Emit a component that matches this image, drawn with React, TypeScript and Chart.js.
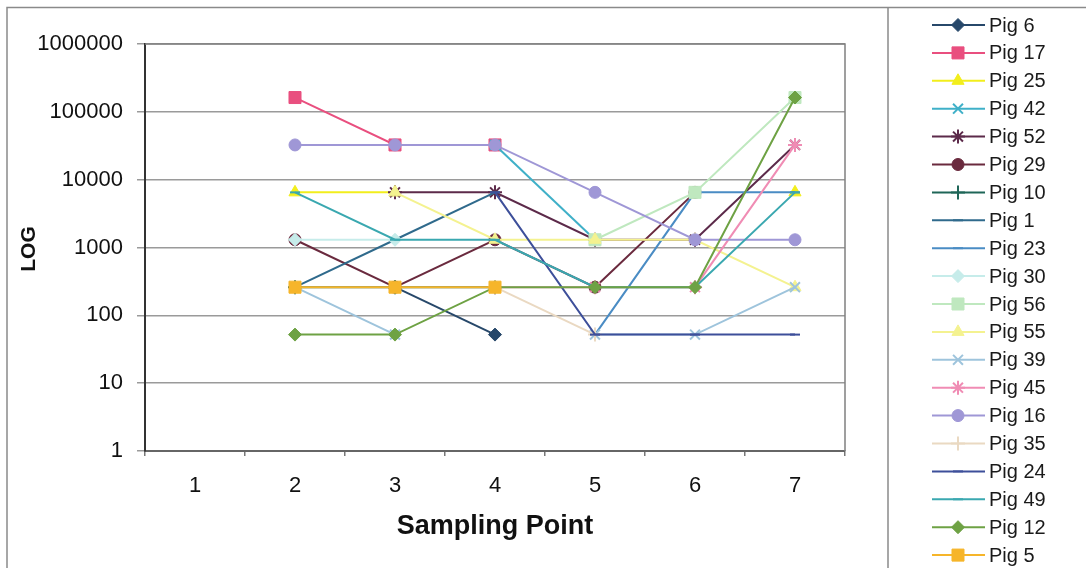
import React, { useEffect, useRef } from 'react';
import { Chart, registerables } from 'chart.js';
import { drawPoint } from 'chart.js/helpers';

Chart.register(...registerables);

const samplingPoints = ['1', '2', '3', '4', '5', '6', '7'];
const yTickValues = [1, 10, 100, 1000, 10000, 100000, 1000000];

const pig6 = [null, null, 260, 52, null, null, null];
const pig17 = [null, 162500, 32500, 32500, null, null, null];
const pig25 = [null, 6500, 6500, null, null, null, 6500];
const pig42 = [null, null, null, 32500, 1300, null, null];
const pig52 = [null, null, 6500, 6500, 1300, 1300, 32500];
const pig29 = [null, 1300, 260, 1300, 260, 6500, null];
const pig10 = [null, 260, 260, 260, null, null, null];
const pig1 = [null, 260, 1300, 6500, null, null, null];
const pig23 = [null, null, null, null, 52, 6500, 6500];
const pig30 = [null, 1300, 1300, null, null, null, null];
const pig56 = [null, null, null, null, 1300, 6500, 162500];
const pig55 = [null, null, 6500, 1300, 1300, 1300, 260];
const pig39 = [null, 260, 52, null, 52, 52, 260];
const pig45 = [null, null, null, 260, 260, 260, 32500];
const pig16 = [null, 32500, 32500, 32500, 6500, 1300, 1300];
const pig35 = [null, null, null, 260, 52, null, null];
const pig24 = [null, null, null, 6500, 52, 52, 52];
const pig49 = [null, 6500, 1300, 1300, 260, 260, 6500];
const pig12 = [null, 52, 52, 260, 260, 260, 162500];
const pig5 = [null, 260, 260, 260, null, null, null];

const seriesNames = ['Pig 6', 'Pig 17', 'Pig 25', 'Pig 42', 'Pig 52', 'Pig 29', 'Pig 10', 'Pig 1', 'Pig 23', 'Pig 30',
  'Pig 56', 'Pig 55', 'Pig 39', 'Pig 45', 'Pig 16', 'Pig 35', 'Pig 24', 'Pig 49', 'Pig 12', 'Pig 5'];
const seriesValues = [pig6, pig17, pig25, pig42, pig52, pig29, pig10, pig1, pig23, pig30,
  pig56, pig55, pig39, pig45, pig16, pig35, pig24, pig49, pig12, pig5];
const seriesColors = ['#27486a', '#e94f7f', '#f2ee1c', '#3fb0c8', '#5c2a4a', '#6a2a3e', '#1f6658', '#2f6a8c', '#4a8cc4', '#c6ecea',
  '#bfe8bf', '#f4f290', '#9ec4dc', '#f08cb4', '#9f97d6', '#ead9c2', '#3d4f9a', '#3aa8b0', '#6ea244', '#f6b52a'];
const seriesMarkers = ['rectRot', 'rect', 'triangle', 'crossRot', 'star', 'circle', 'cross', 'line', 'line', 'rectRot',
  'rect', 'triangle', 'crossRot', 'star', 'circle', 'cross', 'line', 'line', 'rectRot', 'rect'];

const FONT = "'Liberation Sans', Arial, sans-serif";

const markerRadius = (style: string) => {
  switch (style) {
    case 'rect': return 8.5;
    case 'rectRot': return 6.5;
    case 'triangle': return 7;
    case 'crossRot': return 7;
    case 'star': return 7;
    case 'circle': return 6;
    case 'cross': return 7;
    case 'line': return 5;
    default: return 6;
  }
};

const framePlugin = {
  id: 'frame',
  beforeDraw(chart: any) {
    const { ctx, width, height } = chart;
    ctx.save();
    ctx.fillStyle = '#ffffff';
    ctx.fillRect(0, 0, width, height);
    ctx.strokeStyle = '#8a8a8a';
    ctx.lineWidth = 1.5;
    ctx.beginPath();
    ctx.moveTo(7, height);
    ctx.lineTo(7, 7.5);
    ctx.lineTo(width, 7.5);
    ctx.moveTo(888, 7.5);
    ctx.lineTo(888, height);
    ctx.stroke();
    ctx.restore();
  },
  beforeDatasetsDraw(chart: any) {
    const { ctx, chartArea } = chart;
    ctx.save();
    ctx.strokeStyle = '#808080';
    ctx.lineWidth = 1.5;
    ctx.beginPath();
    ctx.moveTo(chartArea.left, chartArea.top);
    ctx.lineTo(chartArea.right, chartArea.top);
    ctx.lineTo(chartArea.right, chartArea.bottom);
    ctx.stroke();
    ctx.restore();
  },
  afterDraw(chart: any) {
    const { ctx } = chart;
    ctx.save();
    // axis titles
    ctx.fillStyle = '#111111';
    ctx.font = `bold 27px ${FONT}`;
    ctx.textAlign = 'center';
    ctx.textBaseline = 'middle';
    ctx.fillText('Sampling Point', 495, 527);
    ctx.save();
    ctx.translate(29, 249);
    ctx.rotate(-Math.PI / 2);
    ctx.font = `bold 21px ${FONT}`;
    ctx.fillText('LOG', 0, 0);
    ctx.restore();
    // legend
    chart.data.datasets.forEach((ds: any, i: number) => {
      const y = 25 + i * 27.9;
      ctx.strokeStyle = ds.borderColor;
      ctx.lineWidth = 2;
      ctx.beginPath();
      ctx.moveTo(932, y);
      ctx.lineTo(985, y);
      ctx.stroke();
      ctx.fillStyle = ds.pointBackgroundColor;
      ctx.strokeStyle = ds.pointBorderColor;
      ctx.lineWidth = ds.pointBorderWidth;
      drawPoint(ctx, { pointStyle: ds.pointStyle, radius: ds.pointRadius, rotation: 0, borderWidth: ds.pointBorderWidth }, 958, y);
      ctx.fillStyle = '#1a1a1a';
      ctx.font = `20px ${FONT}`;
      ctx.textAlign = 'left';
      ctx.textBaseline = 'middle';
      ctx.fillText(ds.label, 989, y + 1);
    });
    ctx.restore();
  },
};

export default function App() {
  const canvasRef = useRef<HTMLCanvasElement | null>(null);

  useEffect(() => {
    document.body.style.margin = '0';
    const canvas = canvasRef.current;
    if (!canvas) return;
    const n = seriesNames.length;
    const datasets = seriesNames.map((name, i) => {
      const style = seriesMarkers[i];
      const r = markerRadius(style);
      const thin = style === 'crossRot' || style === 'cross' || style === 'star' || style === 'line';
      return {
        label: name,
        data: seriesValues[i],
        borderColor: seriesColors[i],
        backgroundColor: seriesColors[i],
        pointBackgroundColor: seriesColors[i],
        pointBorderColor: seriesColors[i],
        pointBorderWidth: thin ? 2 : 1,
        pointStyle: style,
        pointRadius: r,
        pointHoverRadius: r,
        borderWidth: 2,
        tension: 0,
        spanGaps: false,
        order: n - i,
      };
    });

    const chart = new Chart(canvas, {
      type: 'line',
      data: { labels: samplingPoints, datasets },
      plugins: [framePlugin],
      options: {
        responsive: false,
        animation: false,
        layout: { padding: { left: 0, top: 44, right: 241, bottom: 0 } },
        plugins: { legend: { display: false }, tooltip: { enabled: false }, title: { display: false } },
        scales: {
          x: {
            type: 'category',
            offset: true,
            grid: { display: true, drawOnChartArea: false, drawTicks: true, tickLength: 5, offset: true, color: '#777777', lineWidth: 1.5 },
            border: { display: true, color: '#666666', width: 2 },
            ticks: { color: '#111111', font: { family: FONT, size: 22 }, padding: 17 },
            afterFit: (scale: any) => { scale.height = 117; },
          },
          y: {
            type: 'logarithmic',
            min: 1,
            max: 1000000,
            afterBuildTicks: (scale: any) => { scale.ticks = yTickValues.map((v) => ({ value: v })); },
            afterFit: (scale: any) => { scale.width = 145; },
            grid: { color: '#9a9a9a', lineWidth: 1.5, drawTicks: true, tickLength: 8 },
            border: { display: true, color: '#333333', width: 2 },
            ticks: {
              autoSkip: false,
              color: '#111111',
              font: { family: FONT, size: 22 },
              padding: 14,
              callback: (v: any) => String(v),
            },
          },
        },
      },
    } as any);
    return () => chart.destroy();
  }, []);

  return (
    <div style={{ position: 'absolute', left: 0, top: 0, width: 1086, height: 568 }}>
      <canvas ref={canvasRef} width={1086} height={568} />
    </div>
  );
}
